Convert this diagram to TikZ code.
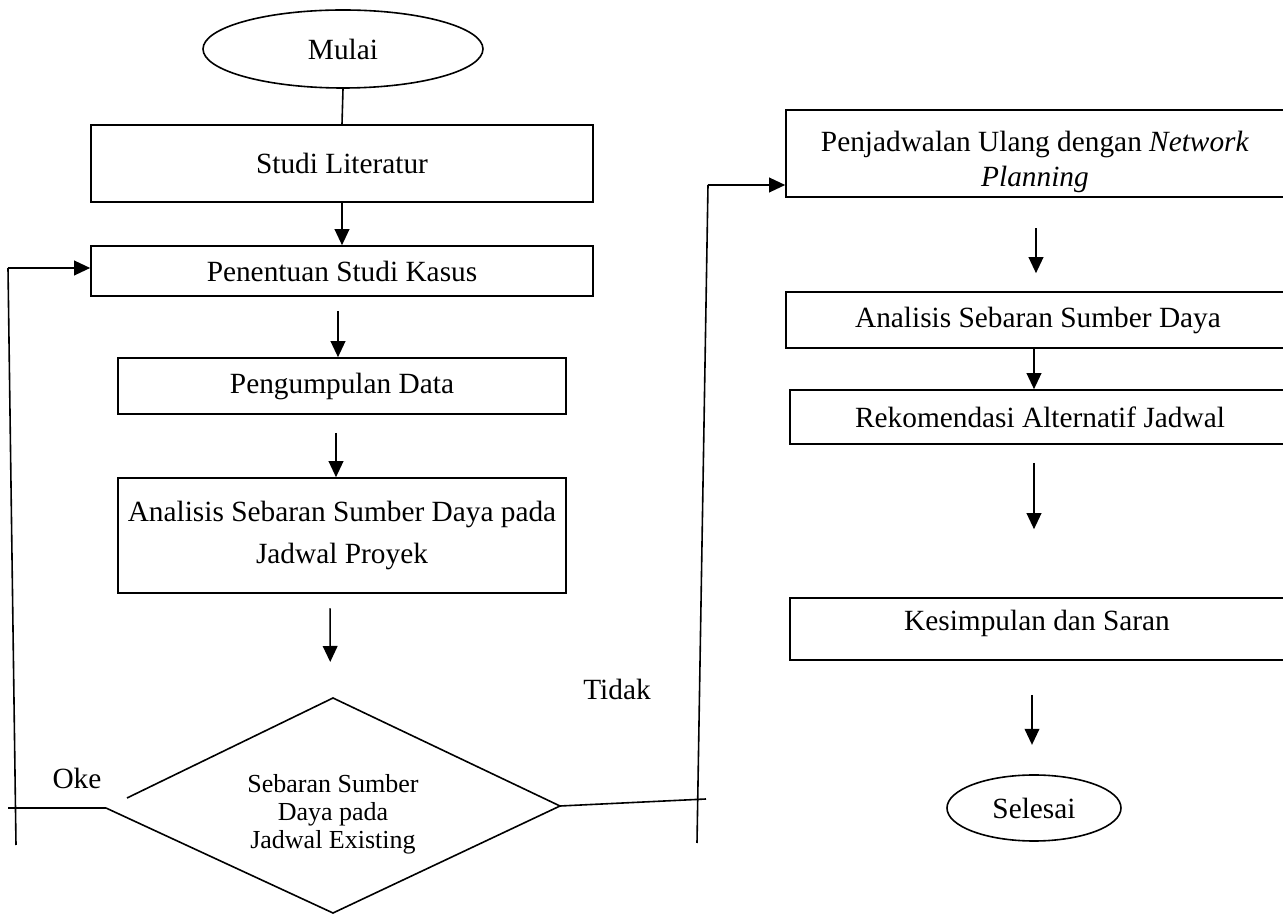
\documentclass[tikz,border=0pt]{standalone}
\usepackage{fontspec}
\setmainfont{Liberation Serif}
\usetikzlibrary{arrows.meta,shapes.geometric}
\begin{document}
\begin{tikzpicture}[x=0.75pt,y=-0.75pt,
  line width=1.2pt,
  box/.style={draw,rectangle,inner sep=0pt,align=center,font=\fontsize{22}{32}\selectfont},
  oval/.style={draw,ellipse,inner sep=0pt,font=\fontsize{22}{26}\selectfont},
  lbl/.style={font=\fontsize{22}{26}\selectfont,inner sep=0pt},
  arr/.style={-{Triangle[length=12pt,width=11pt]}}]
\useasboundingbox (0,0) rectangle (1283,919);
\clip (0,0) rectangle (1283,919);
% left column
\node[oval,minimum width=210pt,minimum height=58.5pt] (mulai) at (343,49) {Mulai};
\node[box,minimum width=376.5pt,minimum height=57.75pt] (studi) at (342,163.5) {Studi Literatur};
\node[box,minimum width=376.5pt,minimum height=37.5pt] (penentuan) at (342,271) {Penentuan Studi Kasus};
\node[box,minimum width=336pt,minimum height=42pt] (kumpul) at (342,386) {Pengumpulan Data};
\node[box,minimum width=336pt,minimum height=86.25pt] (analisis) at (342,535.5) {Analisis Sebaran Sumber Daya pada\\Jadwal Proyek};
% diamond
\coordinate (dT) at (333,698);
\coordinate (dR) at (560,806);
\coordinate (dB) at (333,913);
\coordinate (dL) at (106,808);
\coordinate (dG) at (127,798);
\draw (dG) -- (dT) -- (dR) -- (dB) -- (dL);
\node[align=center,inner sep=0pt,font=\fontsize{19.5}{21}\selectfont] (dtext) at (333,814) {Sebaran Sumber\\Daya pada\\Jadwal Existing};
% right column
\node[draw,rectangle,inner sep=0pt,minimum width=378pt,minimum height=65.25pt] (penj) at (1038,153.5) {};
\node[align=center,inner sep=0pt,font=\fontsize{22}{26}\selectfont] (penjtext) at (1035,162) {Penjadwalan Ulang dengan \textit{Network}\\\textit{Planning}};
\node[box,minimum width=378pt,minimum height=42pt] (analisis2) at (1038,320) {Analisis Sebaran Sumber Daya};
\node[box,minimum width=375pt,minimum height=40.5pt] (rekom) at (1040,417) {Rekomendasi Alternatif Jadwal};
\node[draw,rectangle,inner sep=0pt,minimum width=375pt,minimum height=46.5pt] (kesim) at (1040,629) {};
\node[lbl] (kesimtext) at (1037,623) {Kesimpulan dan Saran};
\node[oval,minimum width=130.5pt,minimum height=49.5pt] (selesai) at (1034,808) {Selesai};
% labels
\node[lbl] (oke) at (77,778) {Oke};
\node[lbl] (tidak) at (617,689) {Tidak};
% connectors left
\draw (mulai.south) -- (studi.north);
\draw[arr] (studi.south) -- (penentuan.north);
\draw[arr,shorten <=10.5pt] ([xshift=-3pt]penentuan.south) -- ([xshift=-3pt]kumpul.north);
\draw[arr,shorten <=13.5pt] ([xshift=-4.5pt]kumpul.south) -- ([xshift=-4.5pt]analisis.north);
\draw[arr,shorten <=11pt,shorten >=27pt] ([xshift=-9pt]analisis.south) -- ([xshift=-2pt]dT);
% loop back
\coordinate (l1) at (8,808);
\coordinate (l2) at (16,845);
\coordinate (l3) at (8,268);
\draw (dL) -- (l1);
\draw (l2) -- (l3);
\draw[arr] (l3) -- (l3 -| penentuan.west);
% Tidak branch
\coordinate (r1) at (706,799);
\coordinate (r2) at (697,843);
\coordinate (r3) at (708,185);
\draw (dR) -- (r1);
\draw (r2) -- (r3);
\draw[arr] (r3) -- (r3 -| penj.west);
% connectors right
\draw[arr,shorten <=23pt,shorten >=13.5pt] ([xshift=-1.5pt]penj.south) -- ([xshift=-1.5pt]analisis2.north);
\draw[arr] ([xshift=-3pt]analisis2.south) -- ([xshift=-3pt]analisis2.south |- rekom.north);
\draw[arr,shorten <=13.5pt,shorten >=51pt] ([xshift=-4.5pt]rekom.south) -- ([xshift=-4.5pt]kesim.north);
\draw[arr,shorten <=25.5pt,shorten >=22pt] ([xshift=-6pt]kesim.south) -- ([xshift=-1.5pt]selesai.north);
\end{tikzpicture}
\end{document}
